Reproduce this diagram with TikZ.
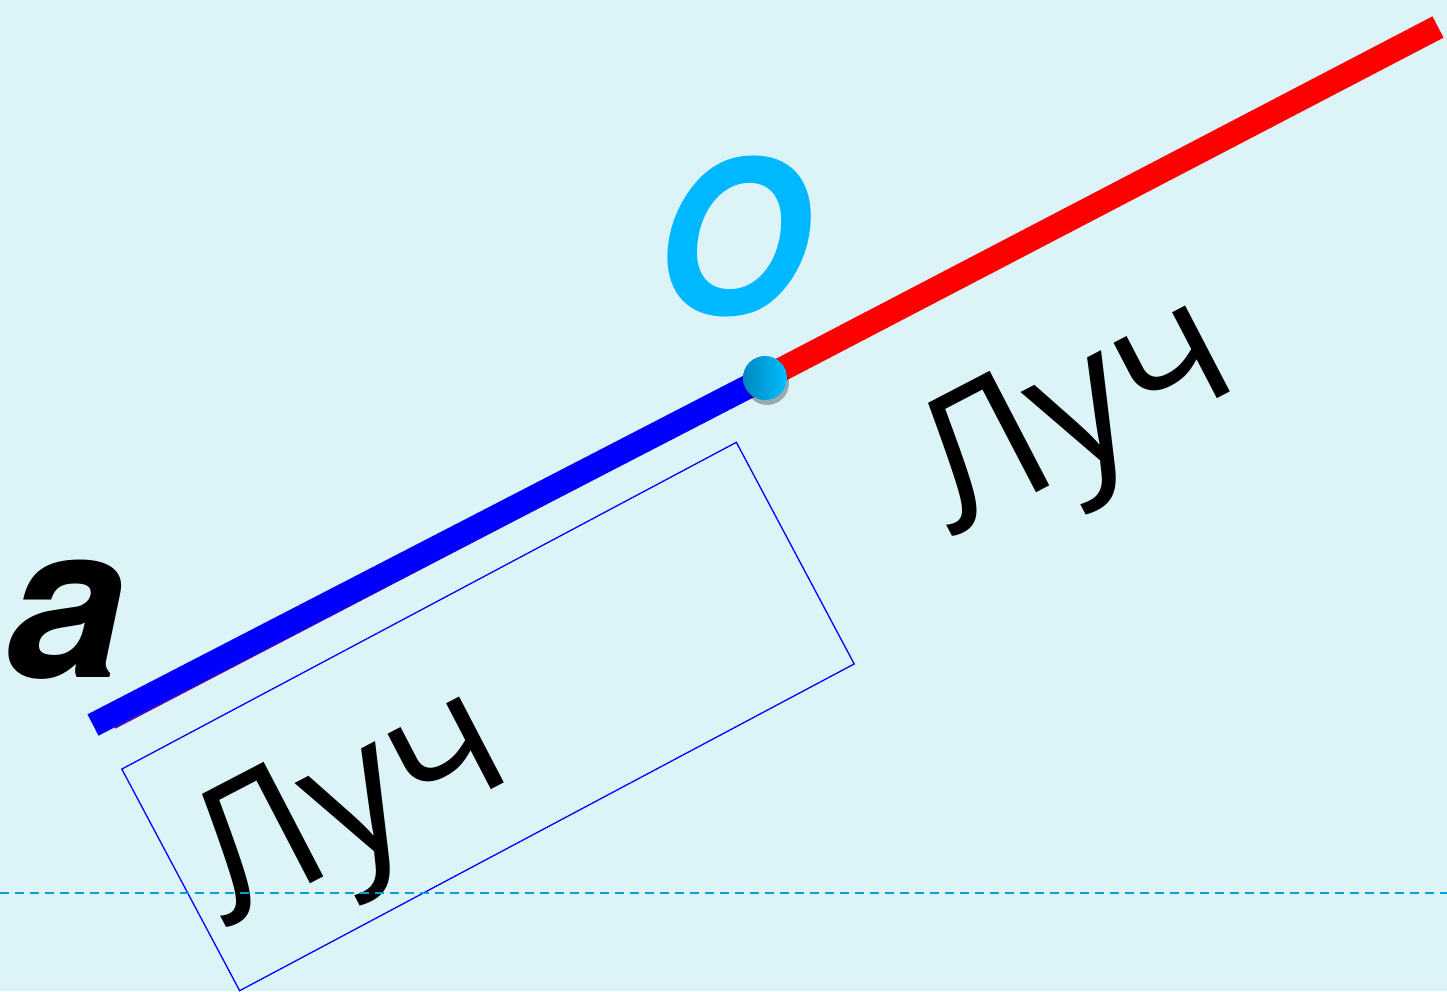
\documentclass[tikz,border=0pt]{standalone}
\usepackage{fontspec}
\setmainfont{Open Sans}
\newfontfamily\heroshbi{TeX Gyre Heros}
\usepackage{tikz}
\usetikzlibrary{calc}

\definecolor{bgcyan}{RGB}{220,244,248}
\definecolor{ocyan}{RGB}{0,184,255}
\definecolor{dashblue}{RGB}{0,160,220}

\begin{document}
\begin{tikzpicture}[x=1pt, y=-1pt, ray/.style={line width=24pt}, word/.style={font=\fontsize{181}{190}\selectfont, inner sep=0pt, anchor=base west, rotate=27.5}, letter/.style={font=\heroshbi\bfseries\itshape\fontsize{214}{220}\selectfont, inner sep=0pt}]
	\fill[bgcyan] (0,0) rectangle (1447,991);
	\useasboundingbox (0,0) rectangle (1447,991);
	\coordinate (start) at (93,725);
	\coordinate (O) at (765,378);
	\coordinate (end) at (1438,27);
	\coordinate (thinA) at (115,728);
	\coordinate (thinB) at (1442,37);
	\draw[line width=1.5pt, violet!80!blue] (thinA) -- (thinB);
	\draw[ray, blue] (start) -- (O);
	\draw[ray, red] (O) -- (end);
	\fill[black, opacity=0.3] ($(O)+(2,5)$) circle (22pt);
	\shade[left color=blue!30!cyan!75!black, right color=cyan!75!blue] (O) circle (22pt);
	\node[letter, text=ocyan, xscale=0.93] (lblO) at (732,236) {O};
	\node[letter, text=black] (lbla) at (66,620) {a};
	\node[word] (ray1) at (952,537) {Луч};
	\node[draw=blue, line width=1.3pt, minimum width=696pt, minimum height=251pt, rotate=28] (box) at (488,716.5) {};
	\node[word] (ray2) at (226,928) {Луч};
	\coordinate (dashL) at (0,893);
	\coordinate (dashR) at (1447,893);
	\draw[dashblue, line width=1.8pt, dash pattern=on 9pt off 6pt] (dashL) -- (dashR);
\end{tikzpicture}
\end{document}
